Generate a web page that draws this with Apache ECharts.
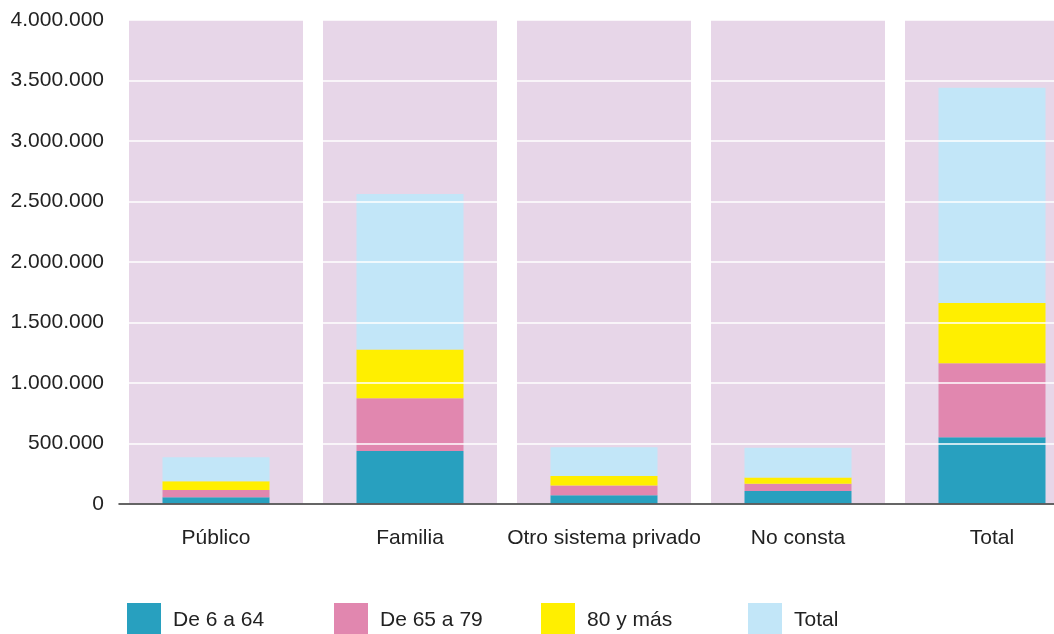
<!DOCTYPE html>
<html>
<head>
<meta charset="utf-8">
<script src="https://cdn.jsdelivr.net/npm/echarts@6/dist/echarts.min.js"></script>
<style>
  html, body { margin: 0; padding: 0; background: #ffffff; }
  #chart { width: 1054px; height: 634px; }
</style>
</head>
<body>
<div id="chart"></div>
<script>
// Categories (who provides the support) and the stacked age groups
const categories = ['Público', 'Familia', 'Otro sistema privado', 'No consta', 'Total'];
const seriesNames = ['De 6 a 64', 'De 65 a 79', '80 y más', 'Total'];

const de6a64   = [55000, 439000, 73000, 107000, 551000];
const de65a79  = [61000, 434000, 79000, 61000, 613000];
const de80ymas = [72000, 404000, 79000, 52000, 497000];
const total    = [199000, 1285000, 239000, 245000, 1779000];

// Y axis range and tick step
const yMin = 0;
const yMax = 4000000;
const yStep = 500000;

const colors = ['#28a0bf', '#e187af', '#ffef00', '#c2e6f8'];
const bandColor = '#e7d6e8';
const font = '"Liberation Sans", Arial, Helvetica, sans-serif';

const values = [de6a64, de65a79, de80ymas, total];

const fmt = v => String(v).replace(/\B(?=(\d{3})+(?!\d))/g, '.');

const chart = echarts.init(document.getElementById('chart'), null, { renderer: 'canvas' });

const dataSeries = seriesNames.map((name, i) => ({
  name: name,
  type: 'bar',
  stack: 'edad',
  xAxisIndex: 0,
  barWidth: 107,
  z: 2,
  itemStyle: { color: colors[i] },
  emphasis: { disabled: true },
  data: values[i]
}));

// Full-height lilac band behind each category
const bandSeries = {
  name: 'band',
  type: 'bar',
  xAxisIndex: 1,
  barWidth: 174,
  z: 1,
  silent: true,
  itemStyle: { color: bandColor },
  data: categories.map(() => yMax)
};

const legends = seriesNames.map((name, i) => ({
  data: [name],
  left: 127 + 207 * i,
  top: 603,
  padding: 0,
  itemWidth: 34,
  itemHeight: 34,
  icon: 'rect',
  selectedMode: false,
  textStyle: { fontFamily: font, fontSize: 21, color: '#222', padding: [0, 0, 0, 7] }
}));

chart.setOption({
  animation: false,
  backgroundColor: '#ffffff',
  grid: {
    left: 119,
    top: 20,
    width: 970,
    height: 484,
    containLabel: false,
    outerBoundsMode: 'none'
  },
  legend: legends,
  xAxis: [
    {
      type: 'category',
      data: categories,
      z: 4,
      axisLine: { show: true, lineStyle: { color: '#333', width: 1.5 } },
      axisTick: { show: false },
      axisLabel: { interval: 0, fontFamily: font, fontSize: 21, color: '#222', margin: 24 },
      splitLine: { show: false }
    },
    {
      type: 'category',
      data: categories,
      show: false
    }
  ],
  yAxis: {
    type: 'value',
    min: yMin,
    max: yMax,
    interval: yStep,
    z: 3,
    axisLine: { show: false },
    axisTick: { show: false },
    axisLabel: {
      fontFamily: font,
      fontSize: 21,
      color: '#222',
      margin: 15,
      formatter: fmt
    },
    splitLine: { show: true, lineStyle: { color: '#ffffff', width: 1.5 } }
  },
  series: [bandSeries].concat(dataSeries)
});
</script>
</body>
</html>
